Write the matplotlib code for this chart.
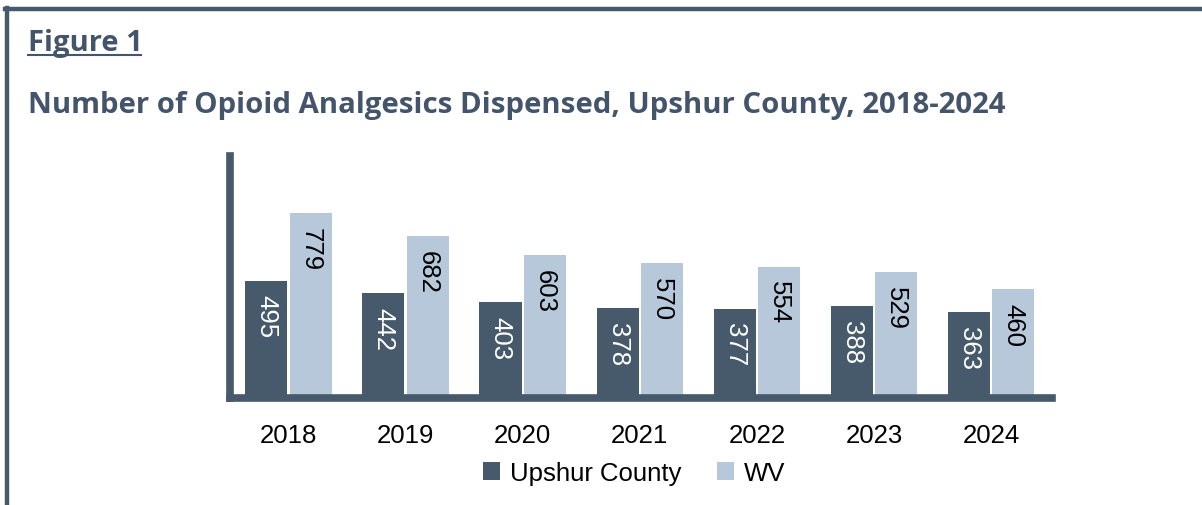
import matplotlib.pyplot as plt
from matplotlib.lines import Line2D
import numpy as np

years = ["2018", "2019", "2020", "2021", "2022", "2023", "2024"]
upshur = [495, 442, 403, 378, 377, 388, 363]
wv = [779, 682, 603, 570, 554, 529, 460]

dark = "#475a6c"
light = "#b6c8da"
slate = "#44546a"

plt.rcParams["font.family"] = ["Liberation Sans", "DejaVu Sans"]

fig = plt.figure(figsize=(12.02, 5.06), dpi=100)

# frame lines (top and left)
fig.add_artist(Line2D([5 / 1202, 1], [1 - 10 / 506, 1 - 10 / 506], color=dark, lw=3.2))
fig.add_artist(Line2D([7 / 1202, 7 / 1202], [0, 1 - 8.5 / 506], color=dark, lw=3.2))

fig.text(28 / 1202, 1 - 44 / 506, "Figure 1", fontsize=21, fontweight="bold",
         color=slate, family=["Open Sans", "DejaVu Sans"], va="center", ha="left")
fig.add_artist(Line2D([28 / 1202, 141 / 1202], [1 - 56 / 506, 1 - 56 / 506], color=slate, lw=1.5))
fig.text(28 / 1202, 1 - 105 / 506,
         "Number of Opioid Analgesics Dispensed, Upshur County, 2018-2024",
         fontsize=21.2, fontweight="bold", color=slate,
         family=["Open Sans", "DejaVu Sans"], va="center", ha="left")

ax = fig.add_axes([230 / 1202, 1 - 399 / 506, (1052 - 230) / 1202, (399 - 157) / 506])
x = np.arange(len(years))
w = 0.36
b1 = ax.bar(x - w / 2 - 0.01, upshur, w, color=dark, label="Upshur County")
b2 = ax.bar(x + w / 2 + 0.01, wv, w, color=light, label="WV")

for bars, vals, col in [(b1, upshur, "white"), (b2, wv, "black")]:
    for r, v in zip(bars, vals):
        ax.annotate(str(v), (r.get_x() + r.get_width() / 2, v), xytext=(0, -10),
                    textcoords="offset points", rotation=270, ha="center", va="top",
                    fontsize=18.5, color=col)

ax.set_xlim(-0.5, 6.52)
ax.set_ylim(0, 1020)
ax.set_xticks(x)
ax.set_xticklabels(years, fontsize=18.5)
ax.set_yticks([])
ax.tick_params(axis="x", length=0, pad=18)
for s in ["top", "right"]:
    ax.spines[s].set_visible(False)
ax.spines["left"].set_color(dark)
ax.spines["left"].set_linewidth(5.5)
ax.spines["bottom"].set_color(dark)
ax.spines["bottom"].set_linewidth(5.5)

ax.legend(loc="center", bbox_to_anchor=(0.492, -0.31), ncol=2, frameon=False,
          fontsize=18.5, handlelength=0.65, handleheight=0.65, handletextpad=0.4,
          columnspacing=1.4)

fig.savefig("out.png", dpi=100)
